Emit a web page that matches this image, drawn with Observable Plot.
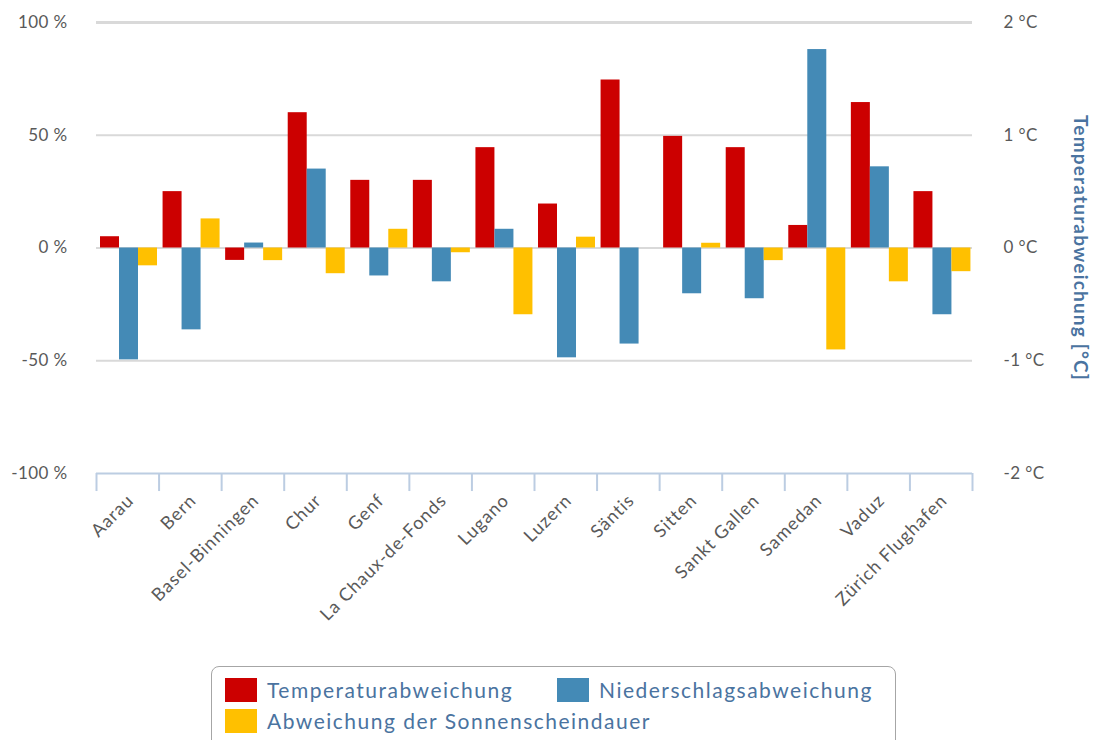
<!DOCTYPE html>
<html><head><meta charset="utf-8">
<script src="https://cdn.jsdelivr.net/npm/d3@7"></script>
<script src="https://cdn.jsdelivr.net/npm/@observablehq/plot@0.6"></script>
<style>
body{margin:0;background:#fff;font-family:Lato,"Open Sans",sans-serif;overflow:hidden;}
#chart{position:absolute;left:0;top:0;}
#legend{position:absolute;left:211px;top:666px;width:685px;height:90px;border:1.5px solid #a6a6a6;border-radius:8px;box-sizing:border-box;background:#fff;}
.item{position:absolute;display:flex;align-items:center;font-size:21px;line-height:24px;letter-spacing:1.5px;color:#4a73a0;white-space:nowrap;}
.sw{width:32px;height:24px;margin-right:10px;}
</style></head><body><div id="chart"></div><div id="legend"></div>
<script>
const cities = ["Aarau","Bern","Basel-Binningen","Chur","Genf","La Chaux-de-Fonds","Lugano","Luzern","Säntis","Sitten","Sankt Gallen","Samedan","Vaduz","Zürich Flughafen"];
const tempC = [0.1, 0.5, -0.11, 1.2, 0.6, 0.6, 0.89, 0.39, 1.49, 0.99, 0.89, 0.2, 1.29, 0.5];
const precipPct = [-49.6, -36.3, 2.2, 35, -12.4, -15, 8.3, -48.7, -42.6, -20.3, -22.5, 88, 36, -29.6];
const sunPct = [-7.9, 12.9, -5.6, -11.4, 8.3, -2.1, -29.6, 4.8, 0, 2.1, -5.6, -45.2, -15, -10.5];
const seriesNames = ["Temperaturabweichung","Niederschlagsabweichung","Abweichung der Sonnenscheindauer"];
const seriesColors = ["#CC0000","#448AB6","#FFC000"];
const pctTicks = [-100,-50,0,50,100];
const gridTicks = [-50,0,50,100];
const rightTitle = "Temperaturabweichung [°C]";

const W = 1094, H = 665, ml = 96, mr = 122, mt = 22, mb = 192;
const bw = (W - ml - mr) / cities.length;
const degScale = 50; // 1 °C on the right axis = 50 % on the left axis

const tempRows = cities.map((c, i) => ({city: c, v: tempC[i] * degScale}));
const precRows = cities.map((c, i) => ({city: c, v: precipPct[i]}));
const sunRows = cities.map((c, i) => ({city: c, v: sunPct[i]}));

const axisColor = "#bccde2";
const textColor = "#595959";

const chart = Plot.plot({
  width: W, height: H,
  marginLeft: ml, marginRight: mr, marginTop: mt, marginBottom: mb,
  style: {fontFamily: "Lato, 'Open Sans', sans-serif", background: "#fff"},
  x: {domain: cities, padding: 0, round: false, label: null},
  y: {domain: [-100, 100], label: null},
  marks: [
    Plot.ruleY(gridTicks, {stroke: "#d9d9d9", strokeWidth: 2}),
    Plot.ruleY([100], {stroke: "#d9d9d9", strokeWidth: 3}),
    Plot.barY(tempRows, {x: "city", y: "v", fill: seriesColors[0], insetLeft: 4, insetRight: bw - 23}),
    Plot.barY(precRows, {x: "city", y: "v", fill: seriesColors[1], insetLeft: 23, insetRight: bw - 42}),
    Plot.barY(sunRows, {x: "city", y: "v", fill: seriesColors[2], insetLeft: 42, insetRight: bw - 61}),
    Plot.ruleY([-100], {stroke: axisColor, strokeWidth: 2}),
    Plot.ruleX(cities, {x: d => d, y1: -100, y2: -108, dx: -bw / 2, stroke: axisColor, strokeWidth: 2}),
    Plot.ruleX([cities[cities.length - 1]], {x: d => d, y1: -100, y2: -108, dx: bw / 2, stroke: axisColor, strokeWidth: 2}),
    Plot.axisY(pctTicks, {anchor: "left", tickSize: 0, tickPadding: 29, tickFormat: d => `${d} %`, fontSize: 17, color: textColor, label: null}),
    Plot.axisY(pctTicks, {anchor: "right", tickSize: 0, tickPadding: 31, tickFormat: d => `${d / degScale} °C`, fontSize: 17, color: textColor, label: null}),
    Plot.axisX({tickSize: 0, tickRotate: -45, tickPadding: 24, dx: 3, fontSize: 18, color: textColor, label: null}),
    Plot.text([rightTitle], {text: d => d, frameAnchor: "right", textAnchor: "middle", dx: 108, rotate: 90, fontSize: 19, fontWeight: "bold", fill: "#4a73a0"})
  ]
});
const svg = d3.select(chart);
svg.selectAll('g[aria-label="x-axis tick label"] text').attr("letter-spacing", "1px");
svg.selectAll('g[aria-label="y-axis tick label"] text').attr("letter-spacing", "0.4px");
svg.selectAll("text").filter(function () { return this.textContent === rightTitle; }).attr("letter-spacing", "1.2px");
document.getElementById("chart").appendChild(chart);

const legend = document.getElementById("legend");
const pos = [[13, 11], [345, 11], [13, 42]];
seriesNames.forEach((name, i) => {
  const it = document.createElement("div");
  it.className = "item";
  it.style.left = pos[i][0] + "px";
  it.style.top = pos[i][1] + "px";
  const sw = document.createElement("div");
  sw.className = "sw";
  sw.style.background = seriesColors[i];
  const tx = document.createElement("span");
  tx.textContent = name;
  it.appendChild(sw); it.appendChild(tx);
  legend.appendChild(it);
});
</script>
</body></html>
